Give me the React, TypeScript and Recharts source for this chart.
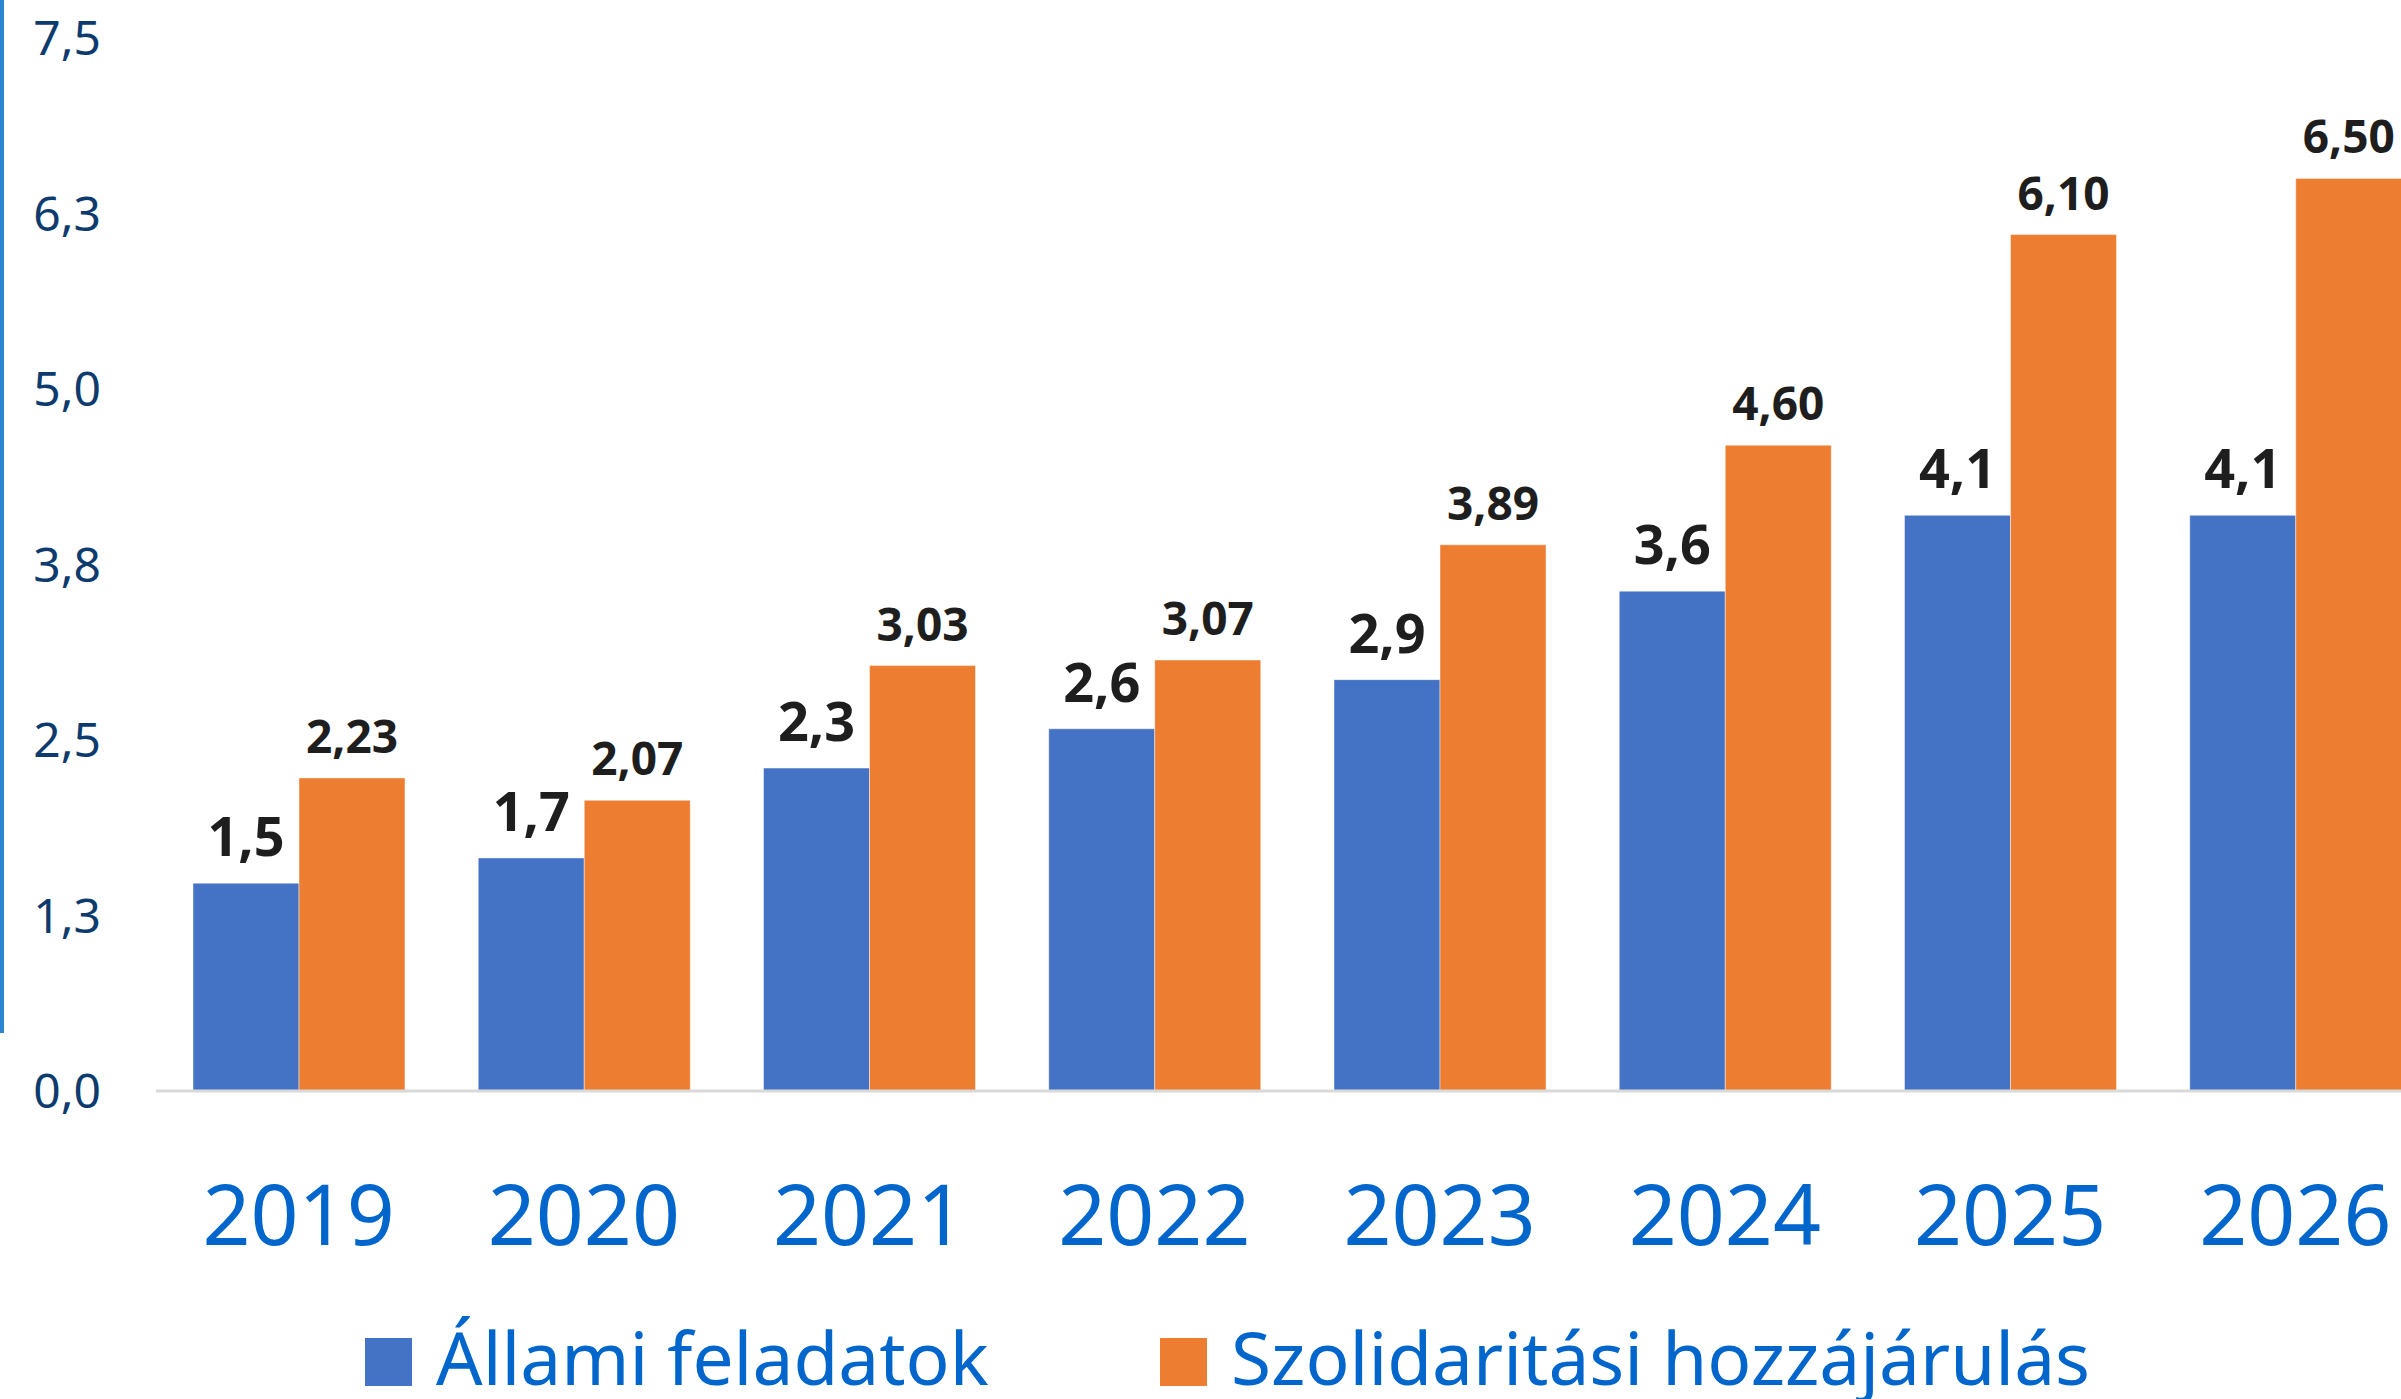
import { BarChart, Bar, XAxis, YAxis, LabelList } from "recharts"

const years = ["2019", "2020", "2021", "2022", "2023", "2024", "2025", "2026"]
const allami = [1.48, 1.66, 2.3, 2.58, 2.93, 3.56, 4.1, 4.1]
const szolidaritasi = [2.23, 2.07, 3.03, 3.07, 3.89, 4.6, 6.1, 6.5]
const yTicks = [0, 1.25, 2.5, 3.75, 5, 6.25, 7.5]

const series = [
  { key: "allami", name: "Állami feladatok", color: "#4472c4", decimals: 1, size: 54, offset: 27 },
  { key: "szolidaritasi", name: "Szolidaritási hozzájárulás", color: "#ed7d31", decimals: 2, size: 46, offset: 25 },
]

const data = years.map((year, i) => ({
  year,
  allami: allami[i],
  szolidaritasi: szolidaritasi[i],
}))

const huNum = (v: number, d: number) => Number(v).toFixed(d).replace(".", ",")

const FONT = "'Noto Sans', 'Open Sans', sans-serif"

export default function App() {
  return (
    <div
      style={{
        position: "absolute",
        left: 0,
        top: 0,
        width: 2401,
        height: 1399,
        overflow: "hidden",
        background: "#fff",
        fontFamily: FONT,
      }}
    >
      {/* blue accent line on the left edge */}
      <div style={{ position: "absolute", left: 0, top: 0, width: 4, height: 1033, background: "#2e86d0" }} />

      <BarChart
        width={2438}
        height={1399}
        data={data}
        margin={{ top: 38, right: 0, left: 0, bottom: 0 }}
        barGap={0}
        barSize={106}
      >
        <XAxis
          dataKey="year"
          height={308}
          tickLine={false}
          tickMargin={88}
          axisLine={{ stroke: "#d9d9d9", strokeWidth: 3 }}
          tick={{ fill: "#0066cc", fontSize: 84, fontFamily: FONT }}
        />
        <YAxis
          width={156}
          domain={[0, 7.5]}
          ticks={yTicks}
          interval={0}
          axisLine={false}
          tickLine={false}
          tickMargin={49}
          tickFormatter={(v: number) => huNum(v, 1)}
          tick={{ fill: "#0d3b6e", fontSize: 48, fontFamily: FONT }}
        />
        {series.map((s) => (
          <Bar
            key={s.key}
            dataKey={s.key}
            name={s.name}
            fill={s.color}
            stroke="rgba(255,255,255,0.45)"
            strokeWidth={1}
            isAnimationActive={false}
          >
            <LabelList
              dataKey={s.key}
              position="top"
              offset={s.offset}
              formatter={(v: number) => huNum(v, s.decimals)}
              style={{ fill: "#1e1e1e", fontSize: s.size, fontWeight: 700, fontFamily: FONT }}
            />
          </Bar>
        ))}
      </BarChart>

      {/* legend */}
      {series.map((s, i) => (
        <div
          key={s.key}
          style={{
            position: "absolute",
            left: i === 0 ? 365 : 1160,
            top: 1320,
            height: 74,
            display: "flex",
            alignItems: "flex-start",
            whiteSpace: "nowrap",
          }}
        >
          <div style={{ width: 47, height: 48, marginTop: 18, background: s.color, marginRight: 24 }} />
          <span style={{ fontSize: 73, color: "#0066cc", lineHeight: "74px" }}>{s.name}</span>
        </div>
      ))}
    </div>
  )
}
